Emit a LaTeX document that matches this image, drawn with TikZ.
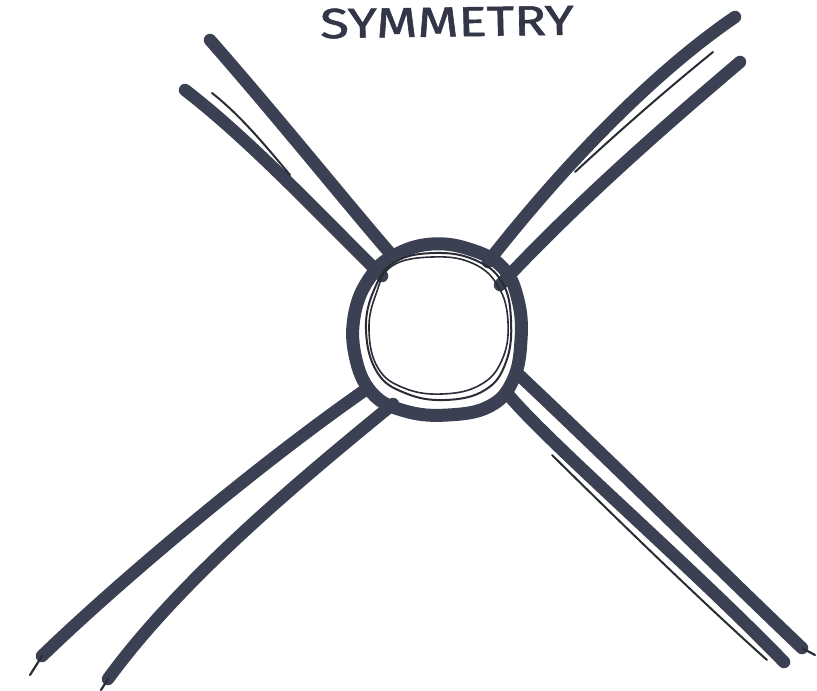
\documentclass[tikz,border=0pt]{standalone}
\usepackage{fontspec}
\newfontfamily\handfont[FakeBold=1.2]{Fira Sans}
\definecolor{ink}{HTML}{3B4052}
\definecolor{inkdark}{HTML}{2A2D36}
\begin{document}
\begin{tikzpicture}[x=1pt,y=-1pt,
  thick stroke/.style={draw=ink,line width=12.5pt,line cap=round,line join=round},
  thin stroke/.style={draw=inkdark,line width=2pt,line cap=round},
  tail stroke/.style={draw=inkdark,line width=2.2pt,line cap=round}]
\useasboundingbox[fill=white] (0,0) rectangle (817,691);

% title
\node[font=\handfont\fontsize{42}{42}\selectfont, text=ink!85!black, xscale=1.26, rotate=1, inner sep=0pt] (title) at (447,22) {SYMMETRY};

% ---- coordinates ----
% top-left arm
\coordinate (a1) at (210,40);  \coordinate (a2) at (389,252);
\coordinate (b1) at (185,90);  \coordinate (b2) at (382,276);
\coordinate (t1) at (212,93);  \coordinate (t2) at (290,175);
% top-right arm
\coordinate (c1) at (735,17);  \coordinate (c2) at (488,262);
\coordinate (d1) at (740,62);  \coordinate (d2) at (500,285);
\coordinate (u1) at (713,52);  \coordinate (u2) at (575,172);
% bottom-left arm
\coordinate (e1) at (368,388); \coordinate (e2) at (42,656); \coordinate (e3) at (30,675);
\coordinate (f1) at (393,404); \coordinate (f2) at (108,679); \coordinate (f3) at (101,690);
% bottom-right arm
\coordinate (g1) at (518,374); \coordinate (g2) at (802,648); \coordinate (g3) at (815,655);
\coordinate (h1) at (506,392); \coordinate (h2) at (784,662);
\coordinate (v1) at (552,455); \coordinate (v2) at (767,660);

% ---- arms ----
\draw[thick stroke] (a1) .. controls (280,120) and (340,195) .. (a2);
\draw[thick stroke] (b1) .. controls (250,140) and (320,215) .. (b2);
\draw[thin stroke]  (t1) .. controls (240,115) and (265,145) .. (t2);

\draw[thick stroke] (c1) .. controls (650,75) and (560,170) .. (c2);
\draw[thick stroke] (d1) .. controls (660,130) and (580,200) .. (d2);
\draw[thin stroke]  (u1) .. controls (660,95) and (615,135) .. (u2);

\draw[thick stroke] (e1) .. controls (250,470) and (110,590) .. (e2);
\draw[tail stroke]  (e2) -- (e3);
\draw[thick stroke] (f1) .. controls (300,480) and (180,580) .. (f2);
\draw[tail stroke]  (f2) -- (f3);

\draw[thick stroke] (g1) .. controls (620,470) and (720,570) .. (g2);
\draw[tail stroke]  (g2) -- (g3);
\draw[thick stroke] (h1) .. controls (545,440) and (690,565) .. (h2);
\draw[thin stroke]  (v1) .. controls (620,522) and (700,600) .. (v2);

% ---- central rings ----
\draw[draw=ink,line width=13pt,line join=round] plot[smooth cycle, tension=0.7] coordinates
  {(395,255) (432,244) (472,250) (503,268) (518,300) (521,340) (513,380) (490,406)
   (448,415) (405,411) (372,393) (355,355) (355,312) (371,276)};
\draw[draw=inkdark,line width=2pt] plot[smooth cycle, tension=0.7] coordinates
  {(395,262) (435,253) (475,260) (502,282) (511,320) (506,362) (485,390)
   (445,400) (405,393) (377,372) (366,330) (374,290)};
\draw[draw=inkdark,line width=1.6pt] plot[smooth cycle, tension=0.7] coordinates
  {(392,266) (432,257) (472,263) (498,286) (508,322) (502,360) (480,385)
   (442,394) (404,388) (378,368) (369,330) (376,294)};
\end{tikzpicture}
\end{document}
